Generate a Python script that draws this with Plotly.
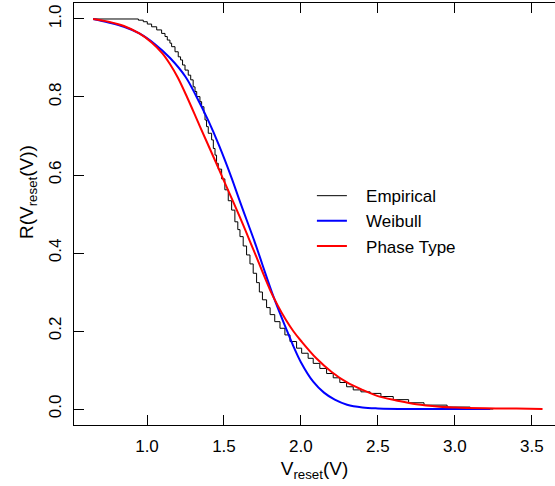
import plotly.graph_objects as go

# ---- Data ----
# Empirical survival (step function): jump location and level after the jump
emp_x = [0.65, 0.944, 0.976, 1.002, 1.030, 1.063, 1.095, 1.117, 1.132, 1.149, 1.160,
         1.182, 1.203, 1.218, 1.231, 1.247, 1.268, 1.284, 1.300, 1.312, 1.323, 1.344,
         1.355, 1.370, 1.377, 1.387, 1.398, 1.420, 1.431, 1.442, 1.452, 1.463, 1.485,
         1.506, 1.528, 1.550, 1.571, 1.590, 1.604, 1.625, 1.647, 1.669, 1.690, 1.712,
         1.730, 1.750, 1.777, 1.800, 1.830, 1.864, 1.896, 1.929, 1.972, 2.005, 2.047,
         2.080, 2.123, 2.167, 2.210, 2.253, 2.297, 2.340, 2.390, 2.450, 2.520, 2.600,
         2.700, 2.800, 2.950, 3.100, 3.250]
emp_y = [1.000, 0.997, 0.993, 0.987, 0.980, 0.972, 0.963, 0.955, 0.946, 0.938, 0.929,
         0.916, 0.903, 0.895, 0.882, 0.869, 0.856, 0.844, 0.826, 0.814, 0.801, 0.788,
         0.775, 0.758, 0.741, 0.724, 0.707, 0.690, 0.668, 0.651, 0.630, 0.615, 0.590,
         0.562, 0.534, 0.510, 0.480, 0.460, 0.442, 0.418, 0.395, 0.372, 0.348, 0.324,
         0.300, 0.280, 0.260, 0.242, 0.224, 0.207, 0.190, 0.173, 0.156, 0.143, 0.130,
         0.117, 0.104, 0.091, 0.080, 0.068, 0.057, 0.049, 0.044, 0.040, 0.032, 0.024,
         0.016, 0.010, 0.005, 0.000, 0.000]

# Weibull fitted survival
wei_x = [0.65, 0.75, 0.85, 0.95, 1.05, 1.15, 1.25, 1.32, 1.40, 1.47, 1.55, 1.60,
         1.65, 1.70, 1.75, 1.82, 1.90, 1.95, 2.00, 2.08, 2.15, 2.22, 2.30, 2.40,
         2.50, 2.70, 3.00, 3.23]
wei_y = [1.000, 0.991, 0.980, 0.963, 0.936, 0.900, 0.852, 0.802, 0.738, 0.674,
         0.592, 0.536, 0.482, 0.428, 0.370, 0.290, 0.210, 0.162, 0.120, 0.070,
         0.042, 0.024, 0.011, 0.004, 0.0015, 0.000, 0.000, 0.000]

# Phase-type fitted survival
ph_x = [0.65, 0.75, 0.85, 0.95, 1.03, 1.10, 1.15, 1.20, 1.26, 1.34, 1.43, 1.50,
        1.60, 1.69, 1.80, 1.85, 1.90, 1.95, 2.00, 2.10, 2.20, 2.30, 2.40, 2.50,
        2.62, 2.75, 2.90, 3.00, 3.20, 3.40, 3.57]
ph_y = [1.000, 0.993, 0.982, 0.963, 0.940, 0.912, 0.884, 0.850, 0.800, 0.728,
        0.648, 0.585, 0.495, 0.410, 0.305, 0.265, 0.230, 0.200, 0.175, 0.130,
        0.095, 0.068, 0.049, 0.033, 0.022, 0.012, 0.006, 0.004, 0.002, 0.001,
        0.000]

x_ticks = [1.0, 1.5, 2.0, 2.5, 3.0, 3.5]
x_tick_text = ["1.0", "1.5", "2.0", "2.5", "3.0", "3.5"]
y_ticks = [0.0, 0.2, 0.4, 0.6, 0.8, 1.0]
y_tick_text = ["0.0", "0.2", "0.4", "0.6", "0.8", "1.0"]

FONT = "Liberation Sans, Arial, sans-serif"
NB = "\u00a0\u00a0\u00a0"

fig = go.Figure()
fig.add_trace(go.Scatter(x=emp_x, y=emp_y, mode="lines", line_shape="hv",
                         line=dict(color="black", width=1), name=NB + "Empirical"))
fig.add_trace(go.Scatter(x=wei_x, y=wei_y, mode="lines", line_shape="spline",
                         line=dict(color="#0000ff", width=2), name=NB + "Weibull"))
fig.add_trace(go.Scatter(x=ph_x, y=ph_y, mode="lines", line_shape="spline",
                         line=dict(color="#ff0000", width=2), name=NB + "Phase Type"))

fig.update_layout(
    width=555, height=486,
    margin=dict(l=74, r=0, t=3, b=61, autoexpand=False),
    plot_bgcolor="white", paper_bgcolor="white",
    font=dict(family=FONT, color="black", size=17),
    showlegend=True,
    legend=dict(x=0.4946, y=0.585, xanchor="left", yanchor="top",
                bgcolor="rgba(0,0,0,0)", borderwidth=0,
                font=dict(size=17, color="black"), tracegroupgap=0),
    xaxis=dict(range=[0.5257, 3.651], tickvals=x_ticks, ticktext=x_tick_text,
               ticks="inside", ticklen=10, tickcolor="black", tickwidth=1,
               showline=True, linecolor="black", linewidth=1, mirror="ticks",
               showgrid=False, zeroline=False, ticklabelstandoff=6, automargin=False,
               tickfont=dict(size=17),
               title=dict(text="V<sub>reset</sub>(V)", font=dict(size=19), standoff=6)),
    yaxis=dict(range=[-0.041, 1.041], tickvals=y_ticks, ticktext=y_tick_text,
               ticks="inside", ticklen=10, tickcolor="black", tickwidth=1,
               showline=True, linecolor="black", linewidth=1, mirror=False,
               showgrid=False, zeroline=False, tickangle=-90, ticklabelstandoff=5,
               automargin=False, tickfont=dict(size=17)),
    yaxis2=dict(range=[-0.041, 1.041], overlaying="y", side="right", anchor="x",
                tickvals=y_ticks, ticks="inside", ticklen=4, tickcolor="black",
                showticklabels=False, showline=False, showgrid=False, zeroline=False,
                automargin=False),
    annotations=[dict(text="R(V<sub>reset</sub>(V))", textangle=-90,
                      xref="paper", yref="paper", x=-0.0956, y=0.552,
                      xanchor="center", yanchor="middle", showarrow=False,
                      font=dict(size=19, color="black", family=FONT))],
)

fig.write_html(
    "out.html",
    config={"displayModeBar": False},
    post_script="document.body.style.margin='0';document.body.style.overflow='hidden';",
)
